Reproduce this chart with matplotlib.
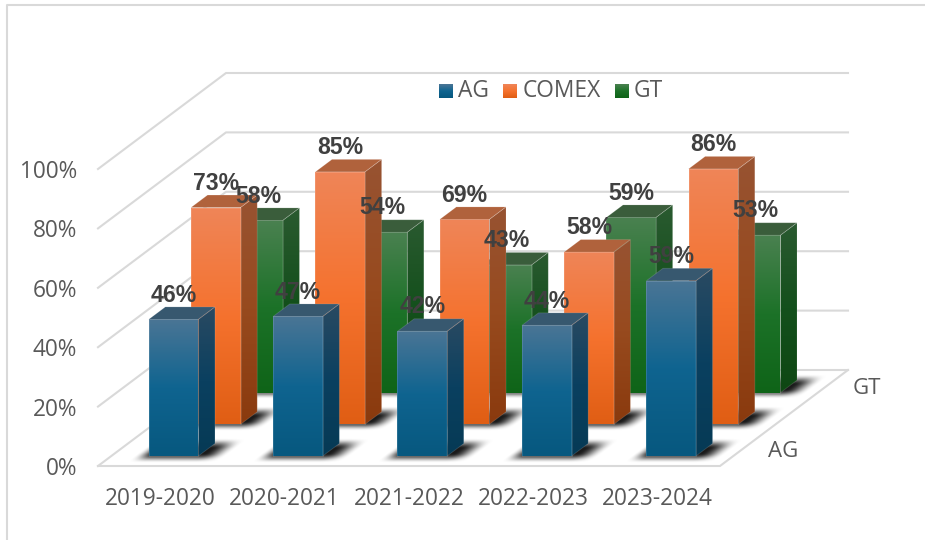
import numpy as np
import matplotlib
matplotlib.use('Agg')
import matplotlib.pyplot as plt
from matplotlib.colors import LinearSegmentedColormap
from matplotlib.lines import Line2D
from matplotlib.patches import Polygon

years = ['2019-2020', '2020-2021', '2021-2022', '2022-2023', '2023-2024']
series = ['AG', 'COMEX', 'GT']
ag = [46, 47, 42, 44, 59]
comex = [73, 85, 69, 58, 86]
gt = [58, 54, 43, 59, 53]
yticks = [0, 20, 40, 60, 80, 100]

# top to bottom gradient colours for each face
front_cols = {'AG': ['#4a7595', '#0f6490', '#07587f'],
              'COMEX': ['#ef8558', '#f5722e', '#e05e14'],
              'GT': ['#4a8150', '#1c7228', '#0f6418']}
side_cols = {'AG': ['#2a4a62', '#0a4060', '#063a55'],
             'COMEX': ['#985332', '#974a1e', '#8a3a0e'],
             'GT': ['#2a5a30', '#14501c', '#0e4713']}
top_cols = {'AG': '#37586f', 'COMEX': '#b0623c', 'GT': '#3a5d3b'}

W, H = 925, 540
GRID = '#d9d9d9'
TXT = '#595959'
FONT = 'Open Sans'

fig = plt.figure(figsize=(W / 100, H / 100), dpi=100)
ax = fig.add_axes([98 / W, 1 - 466 / H, 622 / W, 297 / H])
ax.set_xlim(-0.5, 4.5)
ax.set_ylim(0, 100)
ax.set_autoscale_on(False)
for s in ax.spines.values():
    s.set_visible(False)

# oblique depth: one unit of depth in category units and in percent
DX = 128 / 124.4
DY = 96 / 2.97


def project(x, v, d):
    return x + d * DX, v + d * DY


def gradient_face(pts, cols, z):
    poly = Polygon(pts, closed=True, transform=ax.transData, fc='none', ec='none')
    ax.add_patch(poly)
    xs = [p[0] for p in pts]
    ys = [p[1] for p in pts]
    cmap = LinearSegmentedColormap.from_list('g', cols)
    grad = np.linspace(0, 1, 128).reshape(-1, 1)
    im = ax.imshow(grad, cmap=cmap, aspect='auto', interpolation='bilinear', origin='upper',
                   extent=[min(xs), max(xs), min(ys), max(ys)], zorder=z)
    im.set_clip_path(poly)
    im.set_clip_box(fig.bbox)
    return im


def soft(t, w):
    u = np.clip((t + w) / (2 * w), 0, 1)
    return u * u * (3 - 2 * u)


def floor_shadow(l, r, d0, d1, z):
    # blurred footprint on the floor
    x0, y0 = project(l - 0.25, 0, d0 - 0.1)
    x1, y1 = project(r + 0.4, 0, d1 + 0.1)
    X, Y = np.meshgrid(np.linspace(x0, x1, 140), np.linspace(y0, y1, 70))
    d = Y / DY
    x = X - d * DX
    a = soft(x - (l - 0.05), 0.075) * soft((r + 0.12) - x, 0.1)
    a = a * soft(d - (d0 - 0.02), 0.05) * soft((d1 + 0.005) - d, 0.055)
    rgba = np.zeros(a.shape + (4,))
    rgba[..., 3] = 0.9 * a
    im = ax.imshow(rgba, aspect='auto', interpolation='bilinear', origin='lower',
                   extent=[x0, x1, y0, y1], zorder=z)
    im.set_clip_box(fig.bbox)


# walls and floor
for t in yticks:
    pts = [project(-0.5, t, 0), project(-0.5, t, 1), project(4.5, t, 1)]
    ax.plot(*zip(*pts), color=GRID, lw=1.5, clip_on=False, zorder=1)
pts = [project(-0.5, 0, 0), project(4.5, 0, 0), project(4.5, 0, 1)]
ax.plot(*zip(*pts), color=GRID, lw=1.5, clip_on=False, zorder=1)

bar_w = 0.399
bar_d = 0.13
depths = {'AG': 0.104, 'COMEX': 0.434, 'GT': 0.764}
values = {'AG': ag, 'COMEX': comex, 'GT': gt}

z = 2
labels = []
for name in ['GT', 'COMEX', 'AG']:
    d0 = depths[name]
    d1 = d0 + bar_d
    for i, v in enumerate(values[name]):
        l, r = i - bar_w / 2, i + bar_w / 2
        floor_shadow(l, r, d0, d1, z)
        z += 1
        front = [project(l, 0, d0), project(r, 0, d0), project(r, v, d0), project(l, v, d0)]
        side = [project(r, 0, d0), project(r, 0, d1), project(r, v, d1), project(r, v, d0)]
        top = [project(l, v, d0), project(r, v, d0), project(r, v, d1), project(l, v, d1)]
        gradient_face(side, side_cols[name], z)
        gradient_face(front, front_cols[name], z + 1)
        ax.add_patch(Polygon(top, fc=top_cols[name], ec='none', clip_on=False, zorder=z + 1))
        for face in (front, side, top):
            ax.add_patch(Polygon(face, fc='none', ec='white', lw=0.6, alpha=0.15, clip_on=False, zorder=z + 2))
        z += 3
        labels.append((i, v, d0))

for i, v, d0 in labels:
    ax.annotate(f'{v}%', xy=project(i, v, d0), xytext=(0, 17.5), textcoords='offset points',
                ha='center', va='center', fontsize=16.6, fontweight='bold', color='#404040',
                family='Liberation Sans', zorder=z + 5, annotation_clip=False)

ax.set_xticks(range(len(years)), years)
ax.set_yticks(yticks, [f'{t}%' for t in yticks])
ax.tick_params(axis='both', length=0, labelcolor=TXT, labelsize=16.3)
ax.tick_params(axis='x', pad=15)
ax.tick_params(axis='y', pad=15)
for lab in ax.get_xticklabels() + ax.get_yticklabels():
    lab.set_family(FONT)

# depth axis labels
for name, px in [('AG', 0.0), ('GT', 0.66)]:
    x, y = project(4.5, 0, 0.23 + px)
    ax.annotate(name, xy=(x, y), xytext=(13.5, -5.5), textcoords='offset points', ha='left', va='center',
                fontsize=16, color=TXT, family=FONT, annotation_clip=False)

# legend, drawn by hand so that the swatches keep their gradient
leg = [('AG', 439, 458), ('COMEX', 503, 523), ('GT', 615, 634)]
for name, sx, tx in leg:
    sax = fig.add_axes([sx / W, 1 - 98 / H, 14 / W, 14 / H], zorder=5)
    sax.imshow(np.linspace(0, 1, 32).reshape(-1, 1), aspect='auto', interpolation='bilinear',
               cmap=LinearSegmentedColormap.from_list('g', front_cols[name]))
    sax.axis('off')
    fig.text(tx / W, 1 - 91 / H, name, fontsize=16.4, color=TXT, family=FONT, ha='left', va='center')

# chart area border, only top and left are inside the crop
fig.add_artist(Line2D([7 / W, 7 / W, 1], [0, 1 - 5 / H, 1 - 5 / H], color='#d9d9d9', lw=1.5))

fig.savefig('out.png', dpi=100)
